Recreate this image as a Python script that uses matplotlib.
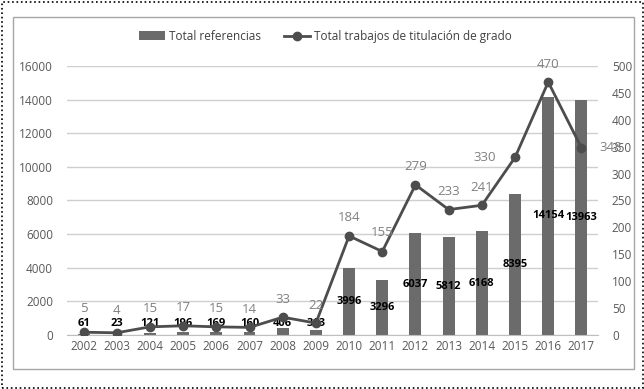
import matplotlib.pyplot as plt
from matplotlib.patches import Rectangle
import numpy as np

plt.rcParams['font.family'] = ['Open Sans', 'DejaVu Sans']

years = ['2002', '2003', '2004', '2005', '2006', '2007', '2008', '2009',
         '2010', '2011', '2012', '2013', '2014', '2015', '2016', '2017']
referencias = [61, 23, 121, 196, 169, 160, 406, 313,
               3996, 3296, 6037, 5812, 6168, 8395, 14154, 13963]
trabajos = [5, 4, 15, 17, 15, 14, 33, 22,
            184, 155, 279, 233, 241, 330, 470, 348]

x = np.arange(len(years))

fig = plt.figure(figsize=(6.44, 3.89), dpi=100)
ax = fig.add_axes([0.104, 0.139, 0.8246, 0.6915])
ax2 = ax.twinx()

# barras
ax.bar(x, referencias, width=0.36, color='#6b6b6b', zorder=2,
       label='Total referencias')
ax.set_ylim(0, 16000)
ax.set_yticks(np.arange(0, 16001, 2000))
ax.set_xlim(-0.5, len(years) - 0.5)
ax.set_xticks(x)
ax.set_xticklabels(years)
ax.grid(axis='y', color='#cfcfcf', linewidth=1, zorder=0)
ax.set_axisbelow(True)

for xi, v in zip(x, referencias):
    ax.text(xi, max(v / 2, 700), str(v), ha='center', va='center',
            fontsize=8, color='black', fontweight='bold', zorder=5)

# linea
ax2.plot(x, trabajos, color='#4d4d4d', linewidth=2, marker='o',
         markersize=6, zorder=4, label='Total trabajos de titulación de grado')
ax2.set_ylim(0, 500)
ax2.set_yticks(np.arange(0, 501, 50))

offsets = {0: (0, 17), 1: (0, 16), 9: (0, 14), 13: (-14, 0), 15: (13, 0)}
for i, (xi, v) in enumerate(zip(x, trabajos)):
    dx, dy = offsets.get(i, (0, 13))
    ha = 'center'
    if dx < 0:
        ha = 'right'
    elif dx > 0:
        ha = 'left'
    ax2.annotate(str(v), (xi, v), xytext=(dx, dy), textcoords='offset points',
                 ha=ha, va='center', fontsize=9.5, color='#808080', zorder=6)

for a in (ax, ax2):
    for s in ['top', 'left', 'right']:
        a.spines[s].set_visible(False)
    a.spines['bottom'].set_color('#bfbfbf')
    a.tick_params(length=0, colors='#595959', labelsize=8.5)
ax2.spines['bottom'].set_visible(False)
ax.tick_params(axis='y', pad=10)
ax2.tick_params(axis='y', pad=10)

h1, l1 = ax.get_legend_handles_labels()
h2, l2 = ax2.get_legend_handles_labels()
fig.legend(h1 + h2, l1 + l2, loc='center', bbox_to_anchor=(0.505, 0.907),
           ncol=2, frameon=False, fontsize=8.5, handlelength=2.2,
           columnspacing=2.0, handletextpad=0.3, labelcolor='#404040')

# bordes
fig.patches.append(Rectangle((13 / 644, 1 - 369 / 389), 621 / 644, 352 / 389,
                             transform=fig.transFigure, fill=False,
                             edgecolor='#a6a6a6', linewidth=1))
fig.patches.append(Rectangle((1.5 / 644, 1.5 / 389), 641 / 644, 386 / 389,
                             transform=fig.transFigure, fill=False,
                             edgecolor='black', linewidth=1.2, linestyle=':'))

fig.savefig('out.png', dpi=100)
